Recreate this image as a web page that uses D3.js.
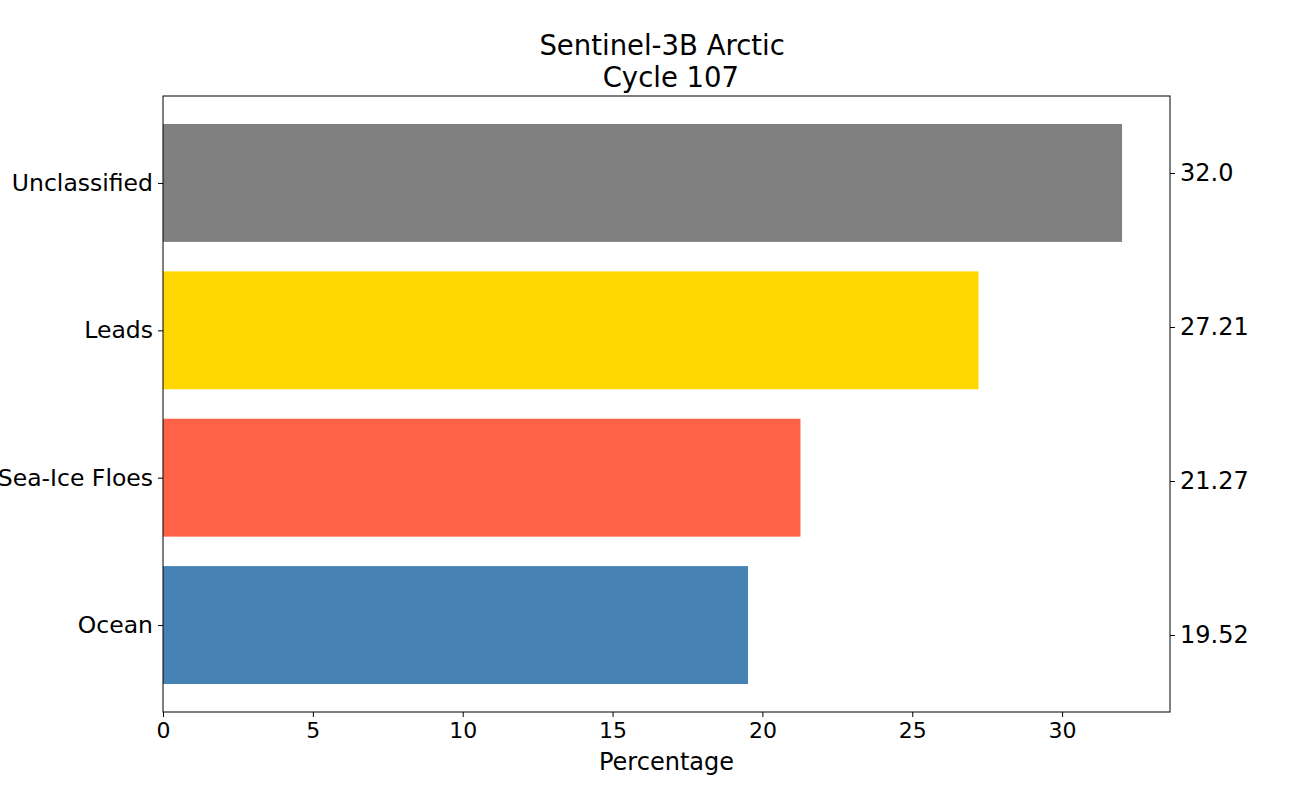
<!DOCTYPE html>
<html>
<head>
<meta charset="utf-8">
<script src="https://cdn.jsdelivr.net/npm/d3@7"></script>
<style>
 body { margin: 0; background: #fff; }
 svg, svg text { font-family: "DejaVu Sans", sans-serif; }
</style>
</head>
<body>
<div id="chart"></div>
<script>
const categories = ["Ocean", "Sea-Ice Floes", "Leads", "Unclassified"];
const values = [19.52, 21.27, 27.21, 32.0];
const valueLabels = ["19.52", "21.27", "27.21", "32.0"];
const colors = ["#4682B4", "#FF6347", "#FFD700", "#808080"];
const xTicks = [0, 5, 10, 15, 20, 25, 30];
const titleLines = ["Sentinel-3B Arctic ", " Cycle 107"];

const width = 1300, height = 800;
const margin = { top: 96, right: 130, bottom: 88, left: 163 };
const innerW = width - margin.left - margin.right;
const innerH = height - margin.top - margin.bottom;

const svg = d3.select("#chart")
 .append("svg")
 .attr("width", width)
 .attr("height", height);

const g = svg.append("g")
 .attr("transform", `translate(${margin.left},${margin.top})`);

// matplotlib-style limits: 5% margin on x, bars 0.8 high
const xMax = d3.max(values) * 1.05;
const x = d3.scaleLinear().domain([0, xMax]).range([0, innerW]);
const pad = (categories.length - 1 + 0.8) * 0.05;
const y = d3.scaleLinear()
 .domain([-0.4 - pad, categories.length - 1 + 0.4 + pad])
 .range([innerH, 0]);
const yRight = d3.scaleLinear()
 .domain([-0.5, categories.length - 0.5])
 .range([innerH, 0]);

g.selectAll("rect.bar")
 .data(values)
 .enter()
 .append("rect")
 .attr("class", "bar")
 .attr("x", x(0))
 .attr("y", (d, i) => y(i + 0.4))
 .attr("width", d => x(d) - x(0))
 .attr("height", y(0) - y(0.8))
 .attr("fill", (d, i) => colors[i]);

// frame
g.append("rect")
 .attr("width", innerW)
 .attr("height", innerH)
 .attr("fill", "none")
 .attr("stroke", "#000")
 .attr("stroke-width", 1);

const xAxis = g.append("g")
 .attr("transform", `translate(0,${innerH})`)
 .call(d3.axisBottom(x).tickValues(xTicks).tickFormat(d3.format("d")).tickSize(5).tickPadding(5));
xAxis.attr("font-size", 22);

const yAxis = g.append("g")
 .call(d3.axisLeft(y).tickValues(d3.range(categories.length))
  .tickFormat(i => categories[i]).tickSize(5).tickPadding(5));
yAxis.attr("font-size", 23.5);

const yAxisR = g.append("g")
 .attr("transform", `translate(${innerW},0)`)
 .call(d3.axisRight(yRight).tickValues(d3.range(categories.length))
  .tickFormat(i => valueLabels[i]).tickSize(5).tickPadding(5));
yAxisR.attr("font-size", 24);

[xAxis, yAxis, yAxisR].forEach(a => {
 a.attr("font-family", "DejaVu Sans");
 a.select(".domain").remove();
 a.selectAll("line").attr("stroke", "#000");
 a.selectAll("text").attr("fill", "#000");
});

svg.append("text")
 .attr("x", margin.left + innerW / 2)
 .attr("y", 770)
 .attr("text-anchor", "middle")
 .style("font-size", "24px")
 .text("Percentage");

svg.selectAll("text.title")
 .data(titleLines)
 .enter()
 .append("text")
 .attr("class", "title")
 .attr("x", margin.left + innerW / 2)
 .attr("y", (d, i) => 55 + i * 32)
 .attr("text-anchor", "middle")
 .style("font-size", "27.5px")
 .style("white-space", "pre")
 .text(d => d);
</script>
</body>
</html>
